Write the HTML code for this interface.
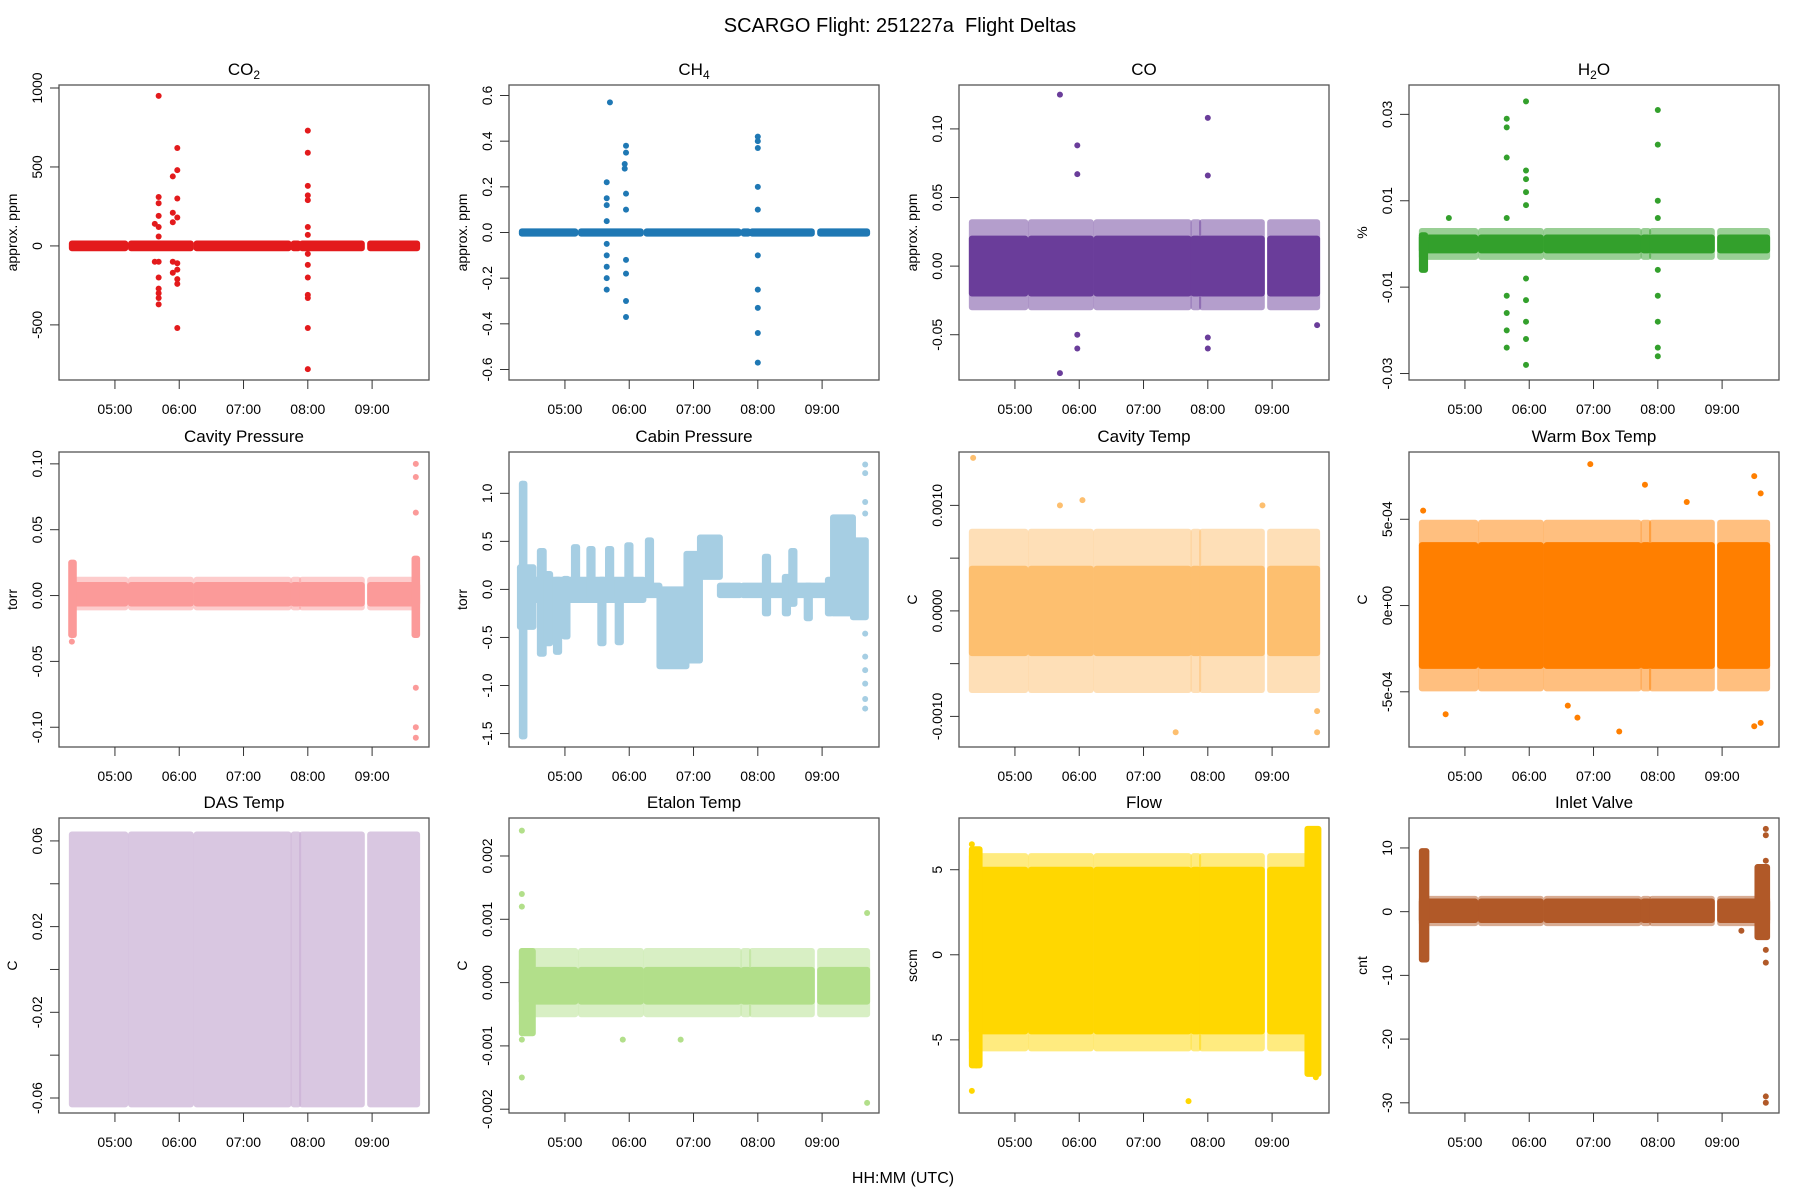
<!DOCTYPE html>
<html><head><meta charset="utf-8"><title>SCARGO Flight Deltas</title>
<style>
html,body{margin:0;padding:0;background:#fff;}
svg{display:block;font-family:"Liberation Sans",Arial,sans-serif;}
</style></head>
<body>
<svg id="chart" width="1800" height="1200" viewBox="0 0 1800 1200" xmlns="http://www.w3.org/2000/svg">
<rect x="0" y="0" width="1800" height="1200" fill="#fff"/>
<text x="900" y="32" font-size="20" text-anchor="middle" xml:space="preserve" style="white-space:pre">SCARGO Flight: 251227a  Flight Deltas</text>
<text x="903" y="1183" font-size="16" text-anchor="middle">HH:MM (UTC)</text>
</svg>
<script>
// ---- data ----
const panelNames = ["CO2","CH4","CO","H2O","Cavity Pressure","Cabin Pressure","Cavity Temp","Warm Box Temp","DAS Temp","Etalon Temp","Flow","Inlet Valve"];
const panelColors = ["#E31A1C","#1F78B4","#6A3D9A","#33A02C","#FB9A99","#A6CEE3","#FDBF6F","#FF7F00","#CAB2D6","#B2DF8A","#FFD700","#B15928"];
const yLabels = ["approx. ppm","approx. ppm","approx. ppm","%","torr","torr","C","C","C","C","sccm","cnt"];
const yLims = [[-849,1019],[-0.646,0.646],[-0.083,0.132],[-0.0315,0.0368],[-0.115,0.109],[-1.64,1.43],[-0.00129,0.001506],[-0.00082,0.00089],[-0.067,0.0707],[-0.00206,0.0026],[-9.3,8.04],[-31.6,14.7]];
const yTicks = [[-500,0,500,1000],[-0.6,-0.4,-0.2,0,0.2,0.4,0.6],[-0.05,0,0.05,0.10],[-0.03,-0.01,0.01,0.03],[-0.1,-0.05,0,0.05,0.1],[-1.5,-1,-0.5,0,0.5,1],[-0.001,-0.0005,0,0.0005,0.001],[-0.0005,0,0.0005],[-0.06,-0.04,-0.02,0,0.02,0.04,0.06],[-0.002,-0.001,0,0.001,0.002],[-5,0,5],[-30,-20,-10,0,10]];
const yTickLabels = [["-500","0","500","1000"],["-0.6","-0.4","-0.2","0.0","0.2","0.4","0.6"],["-0.05","0.00","0.05","0.10"],["-0.03","-0.01","0.01","0.03"],["-0.10","-0.05","0.00","0.05","0.10"],["-1.5","-1.0","-0.5","0.0","0.5","1.0"],["-0.0010","","0.0000","","0.0010"],["-5e-04","0e+00","5e-04"],["-0.06","","-0.02","","0.02","","0.06"],["-0.002","-0.001","0.000","0.001","0.002"],["-5","0","5"],["-30","-20","-10","0","10"]];
const xTicks = [5,6,7,8,9];
const xTickLabels = ["05:00","06:00","07:00","08:00","09:00"];
const xDomain = [4.13,9.885];
const segments = [[4.33,5.16],[5.25,6.18],[6.27,7.70],[7.78,7.85],[7.91,8.84],[8.97,9.70]];
const coreBands = [[-15,15],[-0.005,0.005],[-0.02,0.02],[-0.0015,0.0015],[-0.006,0.008],null,[-0.0004,0.0004],[-0.00035,0.00035],[-0.063,0.063],[-0.0003,0.0002],[-4.5,5],[-1.3,1.6]];
const fringeBands = [null,null,[-0.03,0.032],[-0.003,0.003],[-0.009,0.012],null,[-0.00075,0.00075],[-0.00048,0.00048],null,[-0.0005,0.0005],[-5.5,5.8],[-1.8,2.0]];
const extraBands = [
 [],[],[],[[4.33,4.38,-0.006,0.002]],[[4.32,4.36,-0.03,0.025],[9.66,9.70,-0.03,0.028]],
 [[4.30,4.51,-0.39,0.23],[4.33,4.37,-1.53,1.10],[4.51,6.22,-0.11,0.10],
  [4.61,4.67,-0.67,0.40],[4.72,4.77,-0.56,0.16],[4.86,4.91,-0.65,0.10],[4.99,5.04,-0.49,0.11],[5.14,5.19,-0.08,0.44],
  [5.38,5.43,-0.08,0.42],[5.55,5.60,-0.56,0.10],[5.67,5.72,-0.08,0.42],[5.82,5.87,-0.55,0.08],[5.97,6.02,-0.08,0.46],[6.29,6.34,0,0.51],
  [6.22,6.47,-0.06,0.04],[6.47,6.89,-0.80,0],[6.89,7.10,-0.74,0.37],[7.10,7.41,0.13,0.54],[7.41,7.72,-0.06,0.04],[7.77,9.17,-0.06,0.04],
  [8.11,8.16,-0.25,0.34],[8.42,8.47,-0.25,0.13],[8.52,8.57,-0.15,0.40],[8.76,8.81,-0.30,0.04],[9.09,9.14,-0.25,0.10],
  [9.17,9.48,-0.25,0.75],[9.48,9.68,-0.29,0.51]],
 [],[],[],[[4.33,4.5,-0.0008,0.0005]],[[4.33,4.45,-6.5,6.2],[9.55,9.72,-7,7.4]],[[4.33,4.40,-7.5,9.5],[9.55,9.70,-4,7]]
];
const outliers = [
 [[5.68,950],[5.68,310],[5.68,270],[5.68,190],[5.68,120],[5.68,60],[5.68,-100],[5.68,-200],[5.68,-270],[5.68,-300],[5.68,-330],[5.68,-370],[5.62,140],[5.62,-100],[5.9,440],[5.9,210],[5.9,150],[5.9,-100],[5.9,-170],[5.97,620],[5.97,480],[5.97,300],[5.97,180],[5.97,-110],[5.97,-150],[5.97,-210],[5.97,-240],[5.97,-520],[8.0,730],[8.0,590],[8.0,380],[8.0,320],[8.0,290],[8.0,120],[8.0,70],[8.0,-50],[8.0,-120],[8.0,-200],[8.0,-310],[8.0,-330],[8.0,-520],[8.0,-780]],
 [[5.7,0.57],[5.95,0.38],[5.95,0.35],[5.93,0.3],[5.93,0.28],[5.65,0.22],[5.65,0.15],[5.65,0.12],[5.65,0.05],[5.65,-0.05],[5.65,-0.1],[5.65,-0.15],[5.65,-0.2],[5.65,-0.25],[5.95,0.17],[5.95,0.1],[5.95,-0.12],[5.95,-0.18],[5.95,-0.3],[5.95,-0.37],[8.0,0.42],[8.0,0.4],[8.0,0.37],[8.0,0.2],[8.0,0.1],[8.0,-0.1],[8.0,-0.25],[8.0,-0.33],[8.0,-0.44],[8.0,-0.57]],
 [[5.7,0.125],[5.7,-0.078],[5.97,0.088],[5.97,0.067],[5.97,-0.06],[5.97,-0.05],[8.0,0.108],[8.0,0.066],[8.0,-0.06],[8.0,-0.052],[9.7,-0.043]],
 [[4.75,0.006],[5.65,0.029],[5.65,0.027],[5.65,0.02],[5.65,0.006],[5.65,-0.012],[5.65,-0.016],[5.65,-0.024],[5.65,-0.02],[5.95,0.033],[5.95,0.017],[5.95,0.015],[5.95,0.012],[5.95,0.009],[5.95,-0.008],[5.95,-0.013],[5.95,-0.018],[5.95,-0.022],[5.95,-0.028],[8.0,0.031],[8.0,0.023],[8.0,0.01],[8.0,0.006],[8.0,-0.006],[8.0,-0.012],[8.0,-0.018],[8.0,-0.024],[8.0,-0.026]],
 [[4.33,-0.035],[9.68,0.1],[9.68,0.09],[9.68,0.063],[9.68,-0.07],[9.68,-0.1],[9.68,-0.108]],
 [[4.34,1.10],[4.34,1.0],[4.34,0.9],[4.34,-1.4],[4.34,-1.53],[9.67,1.30],[9.67,1.21],[9.67,0.91],[9.67,0.79],[9.67,0.51],[9.67,-0.46],[9.67,-0.70],[9.67,-0.84],[9.67,-0.98],[9.67,-1.14],[9.67,-1.24]],
 [[4.35,0.00145],[5.7,0.001],[6.05,0.00105],[7.5,-0.00115],[8.85,0.001],[9.7,-0.00095],[9.7,-0.00115]],
 [[6.95,0.00082],[7.8,0.0007],[9.5,0.00075],[9.6,0.00065],[4.35,0.00055],[4.7,-0.00063],[6.75,-0.00065],[7.4,-0.00073],[8.45,0.0006],[9.5,-0.0007],[9.6,-0.00068],[6.6,-0.00058]],
 [],
 [[4.33,0.0024],[4.33,0.0014],[4.33,0.0012],[4.33,-0.0015],[4.33,-0.0009],[4.36,-0.0007],[9.7,0.0011],[9.7,-0.0019],[5.9,-0.0009],[6.8,-0.0009]],
 [[4.33,6.5],[4.33,-8],[9.68,7.3],[9.68,-7.2],[7.7,-8.6],[4.4,-6.5]],
 [[9.68,13],[9.68,12],[9.68,8],[9.68,-6],[9.68,-8],[9.68,-29],[9.68,-30],[9.3,-3],[4.35,-7.3]]
];
// ---- drawing ----
const svg = document.getElementById('chart');
const NS = 'http://www.w3.org/2000/svg';
const rowTops = [85,452,818], PW = 370, PH = 295, R = 3;
function mk(tag, attrs){ const e=document.createElementNS(NS,tag); for(const k in attrs) e.setAttribute(k,attrs[k]); return e; }
panelNames.forEach((name,i)=>{
  const col=i%4,row=Math.floor(i/4);
  const L=col*450+59, T=rowTops[row];
  const lim=yLims[i], color=panelColors[i];
  const xs=h=>L+(h-xDomain[0])/(xDomain[1]-xDomain[0])*PW;
  const ys=v=>T+PH-(v-lim[0])/(lim[1]-lim[0])*PH;
  const g=mk('g',{});
  
  
  svg.appendChild(g);
  const clip=mk('clipPath',{id:'clip'+i}); clip.appendChild(mk('rect',{x:L,y:T,width:PW,height:PH})); g.appendChild(clip);
  const marks=mk('g',{'clip-path':'url(#clip'+i+')'});
  
  
  g.appendChild(marks);
  function band(t0,t1,lo,hi,op,nm){
    const r=mk('rect',{x:xs(t0)-R,y:ys(hi)-R,width:xs(t1)-xs(t0)+2*R,height:ys(lo)-ys(hi)+2*R,fill:color,'fill-opacity':op,rx:R});
    
    
    marks.appendChild(r);
  }
  segments.forEach(s=>{
    if(fringeBands[i]) band(s[0],s[1],fringeBands[i][0],fringeBands[i][1],0.5,'fringe-band');
    if(coreBands[i]) band(s[0],s[1],coreBands[i][0],coreBands[i][1],i===8?0.72:1,'core-band');
  });
  extraBands[i].forEach(b=>band(b[0],b[1],b[2],b[3],1,'excursion-band'));
  outliers[i].forEach(p=>{
    const c=mk('circle',{cx:xs(p[0]),cy:ys(p[1]),r:R,fill:color});
    
    
    marks.appendChild(c);
  });
  const box=mk('rect',{x:L,y:T,width:PW,height:PH,fill:'none',stroke:'#555','stroke-width':1.3});
  
  
  g.appendChild(box);
  xTicks.forEach((t,k)=>{
    const x=xs(t);
    const ln=mk('line',{x1:x,y1:T+PH,x2:x,y2:T+PH+9,stroke:'#333','stroke-width':1});
    
    
    g.appendChild(ln);
    const tx=mk('text',{x:x,y:T+PH+34,'font-size':14,'text-anchor':'middle'});
    tx.textContent=xTickLabels[k];
    
    
    g.appendChild(tx);
  });
  yTicks[i].forEach((t,k)=>{
    const y=ys(t);
    const ln=mk('line',{x1:L-9,y1:y,x2:L,y2:y,stroke:'#333','stroke-width':1});
    
    
    g.appendChild(ln);
    if(yTickLabels[i][k]){
      const tx=mk('text',{x:L-17,y:y,'font-size':14,'text-anchor':'middle',transform:'rotate(-90 '+(L-17)+' '+y+')'});
      tx.textContent=yTickLabels[i][k];
      
      
      g.appendChild(tx);
    }
  });
  const yl=mk('text',{x:L-42,y:T+PH/2,'font-size':14,'text-anchor':'middle',transform:'rotate(-90 '+(L-42)+' '+(T+PH/2)+')'});
  yl.textContent=yLabels[i];
  
  
  g.appendChild(yl);
  const tt=mk('text',{x:L+PW/2,y:T-10,'font-size':17,'text-anchor':'middle'});
  const sub={"CO2":["CO","2"],"CH4":["CH","4"],"H2O":["H","2","O"]}[name];
  if(sub){
    tt.appendChild(document.createTextNode(sub[0]));
    const s=mk('tspan',{'font-size':12,dy:4}); s.textContent=sub[1]; tt.appendChild(s);
    if(sub[2]){ const s2=mk('tspan',{dy:-4}); s2.textContent=sub[2]; tt.appendChild(s2); }
  } else tt.textContent=name;
  
  
  g.appendChild(tt);
});
</script>
</body></html>
